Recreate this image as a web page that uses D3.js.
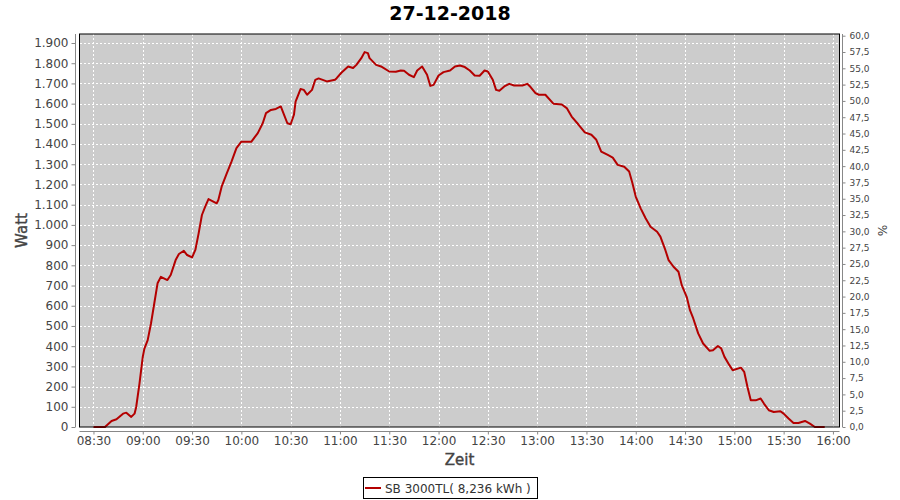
<!DOCTYPE html>
<html>
<head>
<meta charset="utf-8">
<script src="https://d3js.org/d3.v7.min.js"></script>
<style>
  html, body { margin: 0; padding: 0; background: #fff; }
  svg { display: block; }
</style>
</head>
<body>
<svg id="chart" width="900" height="500"></svg>
<script>
// ---- Data ----
const title = "27-12-2018";
const seriesName = "SB 3000TL( 8,236 kWh )";
const times = ["08:30","08:37","08:41","08:44","08:48","08:50","08:53","08:55","08:56","08:58",
  "09:00","09:01","09:03","09:05","09:07","09:09","09:11","09:15","09:17","09:20",
  "09:22","09:25","09:27","09:30","09:32","09:34","09:36","09:38","09:40","09:45",
  "09:46","09:48","09:51","09:54","09:57","10:00","10:06","10:10","10:13","10:15",
  "10:18","10:21","10:24","10:26","10:28","10:30","10:32","10:33","10:36","10:38",
  "10:40","10:43","10:45","10:47","10:52","10:57","10:58","11:01","11:05","11:08",
  "11:10","11:13","11:15","11:17","11:18","11:22","11:25","11:30","11:34","11:37",
  "11:39","11:42","11:45","11:47","11:50","11:53","11:55","11:57","12:00","12:03",
  "12:07","12:10","12:13","12:16","12:19","12:22","12:25","12:28","12:30","12:33",
  "12:35","12:37","12:40","12:43","12:46","12:51","12:54","12:56","12:59","13:01",
  "13:05","13:10","13:15","13:18","13:21","13:25","13:29","13:33","13:36","13:39",
  "13:43","13:46","13:49","13:53","13:56","13:58","14:00","14:03","14:06","14:09",
  "14:13","14:15","14:18","14:20","14:23","14:26","14:28","14:31","14:33","14:35",
  "14:38","14:41","14:45","14:47","14:50","14:52","14:54","14:57","14:59","15:04",
  "15:06","15:08","15:10","15:13","15:16","15:18","15:21","15:24","15:28","15:30",
  "15:33","15:36","15:39","15:43","15:46","15:49","15:55"];
const watts = [0,0,30,38,66,71,50,66,99,215,
  347,388,430,512,611,711,743,727,752,826,
  856,872,851,839,876,958,1049,1090,1128,1107,
  1123,1189,1252,1313,1380,1412,1411,1454,1503,1553,
  1569,1574,1586,1545,1503,1498,1545,1610,1672,1668,
  1644,1668,1718,1725,1710,1718,1726,1754,1784,1776,
  1792,1825,1855,1850,1825,1792,1784,1759,1758,1764,
  1763,1743,1731,1764,1784,1743,1688,1693,1739,1756,
  1764,1784,1789,1781,1764,1739,1738,1764,1759,1718,
  1668,1664,1685,1698,1690,1690,1698,1682,1652,1644,
  1644,1599,1596,1578,1536,1498,1458,1446,1421,1363,
  1346,1333,1297,1288,1264,1206,1140,1082,1033,991,
  966,942,876,826,793,768,702,644,578,537,
  463,413,377,380,401,389,347,306,281,294,
  273,198,132,132,141,116,83,74,78,66,
  42,20,20,30,17,0,0];
const xTickLabels = ["08:30","09:00","09:30","10:00","10:30","11:00","11:30","12:00",
  "12:30","13:00","13:30","14:00","14:30","15:00","15:30","16:00"];
const leftTicks = d3.range(0, 1901, 100);
const rightTicks = d3.range(0, 60.01, 2.5);

// ---- Layout ----
const svg = d3.select("#chart");
const plot = { left: 79.5, top: 34, right: 839.5, bottom: 427 };
const parseT = d3.timeParse("%H:%M:%S");
const parseHM = d3.timeParse("%H:%M");
const loc = d3.formatLocale({ decimal: ",", thousands: ".", grouping: [3], currency: ["", "€"] });
const fmtL = loc.format(",d");
const fmtR = loc.format(",.1f");
const fmtX = d3.timeFormat("%H:%M");

const x = d3.scaleTime()
  .domain([parseT("08:21:30"), parseT("16:04:00")])
  .range([plot.left, plot.right]);
const y = d3.scaleLinear().domain([0, 1944.6]).range([plot.bottom, plot.top]);
const yR = d3.scaleLinear().domain([0, 60.26]).range([plot.bottom, plot.top]);

const data = times.map((t, i) => ({ t: parseHM(t), v: watts[i] }));
const xTicks = xTickLabels.map(parseHM);

// plot background
svg.append("rect")
  .attr("x", plot.left).attr("y", plot.top)
  .attr("width", plot.right - plot.left).attr("height", plot.bottom - plot.top)
  .attr("fill", "#cccccc");

// grid
const grid = svg.append("g").attr("stroke", "#ffffff").attr("stroke-width", 1)
  .attr("stroke-dasharray", "2,2").attr("shape-rendering", "crispEdges");
grid.selectAll(".gh").data(leftTicks).join("line")
  .attr("x1", plot.left).attr("x2", plot.right)
  .attr("y1", d => Math.round(y(d)) + 0.5).attr("y2", d => Math.round(y(d)) + 0.5);
grid.selectAll(".gv").data(xTicks).join("line")
  .attr("y1", plot.top).attr("y2", plot.bottom)
  .attr("x1", d => Math.round(x(d)) + 0.5).attr("x2", d => Math.round(x(d)) + 0.5);

// line
const line = d3.line().x(d => x(d.t)).y(d => y(d.v));
svg.append("path").datum(data)
  .attr("d", line)
  .attr("fill", "none")
  .attr("stroke", "#b40000")
  .attr("stroke-width", 2)
  .attr("stroke-linejoin", "round");

// border
svg.append("rect")
  .attr("x", plot.left).attr("y", plot.top)
  .attr("width", plot.right - plot.left).attr("height", plot.bottom - plot.top)
  .attr("fill", "none").attr("stroke", "#000").attr("stroke-width", 1);

// axes
const axisColor = "#888888";
const textColor = "#444444";

const gL = svg.append("g").attr("transform", "translate(75.5,0)")
  .call(d3.axisLeft(y).tickValues(leftTicks).tickFormat(fmtL).tickSizeOuter(0).tickSize(4).tickPadding(3));
const gR = svg.append("g").attr("transform", "translate(842.5,0)")
  .call(d3.axisRight(yR).tickValues(rightTicks).tickFormat(fmtR).tickSizeOuter(0).tickSize(3).tickPadding(4));
const gB = svg.append("g").attr("transform", "translate(0,431.5)")
  .call(d3.axisBottom(x).tickValues(xTicks).tickFormat(fmtX).tickSizeOuter(0).tickSize(3).tickPadding(2));

[gL, gR, gB].forEach(g => {
  g.select(".domain").attr("stroke", axisColor);
  g.selectAll(".tick line").attr("stroke", axisColor);
  g.selectAll(".tick text").attr("fill", textColor);
});
gL.selectAll(".tick text").attr("font-family", "DejaVu Sans").attr("font-size", 12);
gB.selectAll(".tick text").attr("font-family", "DejaVu Sans").attr("font-size", 12);
gR.selectAll(".tick text").attr("font-family", "DejaVu Sans").attr("font-size", 9);
// axis domain lines span the plot
gL.select(".domain").attr("d", `M0,${plot.top}V${plot.bottom}`);
gR.select(".domain").attr("d", `M0,${plot.top}V${plot.bottom}`);
gB.select(".domain").attr("d", `M${plot.left},0H${plot.right}`);

// title
svg.append("text")
  .attr("x", 450).attr("y", 20)
  .attr("text-anchor", "middle")
  .attr("font-family", "DejaVu Sans").attr("font-weight", "bold").attr("font-size", 19)
  .attr("fill", "#000")
  .text(title);

// axis titles
svg.append("text")
  .attr("transform", `translate(27,${(plot.top + plot.bottom) / 2}) rotate(-90)`)
  .attr("text-anchor", "middle")
  .attr("font-family", "DejaVu Sans").attr("font-size", 15)
  .attr("fill", textColor).attr("stroke", textColor).attr("stroke-width", 0.4)
  .text("Watt");
svg.append("text")
  .attr("x", (plot.left + plot.right) / 2).attr("y", 465)
  .attr("text-anchor", "middle")
  .attr("font-family", "DejaVu Sans").attr("font-size", 15)
  .attr("fill", textColor).attr("stroke", textColor).attr("stroke-width", 0.4)
  .text("Zeit");
svg.append("text")
  .attr("transform", `translate(878,${(plot.top + plot.bottom) / 2}) rotate(90)`)
  .attr("text-anchor", "middle")
  .attr("font-family", "DejaVu Sans").attr("font-size", 12)
  .attr("fill", textColor)
  .text("%");

// legend
const lg = svg.append("g");
lg.append("rect").attr("x", 363.5).attr("y", 477.5).attr("width", 174).attr("height", 21)
  .attr("fill", "#fff").attr("stroke", "#000").attr("stroke-width", 1);
lg.append("line").attr("x1", 365).attr("x2", 381).attr("y1", 488).attr("y2", 488)
  .attr("stroke", "#b40000").attr("stroke-width", 2);
lg.append("text").attr("x", 385).attr("y", 492.5)
  .attr("font-family", "DejaVu Sans").attr("font-size", 12)
  .attr("fill", "#333")
  .text(seriesName);
</script>
</body>
</html>
